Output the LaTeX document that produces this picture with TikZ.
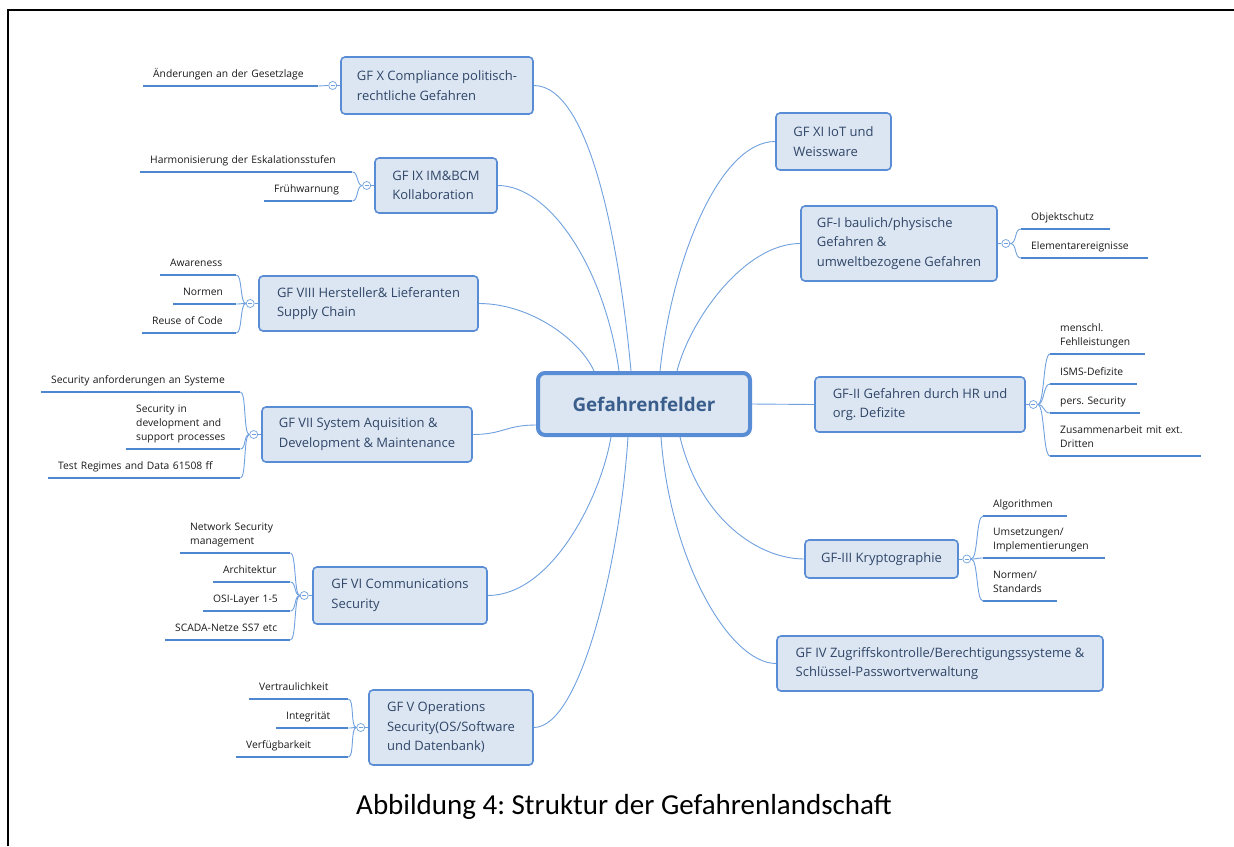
\documentclass[tikz,border=0pt]{standalone}
\usepackage{fontspec}
\setmainfont{Open Sans}
\newfontfamily\capfont{Carlito}
\usetikzlibrary{calc}
\frenchspacing

\definecolor{boxfill}{RGB}{220,230,242}
\definecolor{boxline}{RGB}{88,140,212}
\definecolor{boxtext}{RGB}{48,70,104}
\definecolor{roottext}{RGB}{58,94,140}
\definecolor{linkblue}{RGB}{112,160,222}
\definecolor{ulblue}{RGB}{78,134,208}
\definecolor{leaftext}{RGB}{25,25,25}

\tikzset{
  topic/.style={draw=boxline, line width=1.6pt, fill=boxfill, rounded corners=4pt,
    align=left, text=boxtext, font=\fontsize{13}{19.5}\selectfont, inner sep=0pt},
  rootbox/.style={draw=boxline, line width=4pt, fill=boxfill, rounded corners=7pt,
    text=roottext, font=\fontsize{18.8}{22}\selectfont\bfseries,
    minimum width=212pt, minimum height=62pt},
  link/.style={draw=linkblue, line width=0.9pt},
  uline/.style={draw=ulblue, line width=2.8pt},
  leaf/.style={anchor=south west, inner xsep=10pt, inner ysep=4pt, align=left,
    text=leaftext, font=\fontsize{10.3}{14}\selectfont},
  coll/.style={circle, draw=linkblue, line width=0.7pt, fill=white, minimum size=8pt,
    inner sep=0pt, path picture={\draw[linkblue, line width=0.6pt]
      ([xshift=-2pt]path picture bounding box.center) --
      ([xshift=2pt]path picture bounding box.center);}},
}

\begin{document}
\begin{tikzpicture}[x=1pt,y=-1pt]
\useasboundingbox (0,0) rectangle (1234,846);

% page frame
\draw[line width=2.5pt] (8,846) -- (8,10) -- (1240,10);

% central topic
\node[rootbox] (root) at (644,404) {Gefahrenfelder};

% main topics, left side
\node[topic, minimum width=192pt, minimum height=57pt] (gfx) at (437,85.5)
  {GF X Compliance politisch-\\rechtliche Gefahren};
\node[topic, minimum width=122pt, minimum height=55pt] (gfix) at (436,185.5)
  {GF IX IM\&BCM\\Kollaboration};
\node[topic, minimum width=219pt, minimum height=55pt] (gfviii) at (368.5,303.5)
  {GF VIII Hersteller\& Lieferanten\\Supply Chain};
\node[topic, minimum width=210pt, minimum height=55pt] (gfvii) at (367,434.5)
  {GF VII System Aquisition \&\\Development \& Maintenance};
\node[topic, minimum width=174pt, minimum height=57pt] (gfvi) at (400,595.5)
  {GF VI Communications\\Security};
\node[topic, minimum width=164pt, minimum height=75pt] (gfv) at (451,727.5)
  {GF V Operations\\Security(OS/Software\\und Datenbank)};

% main topics, right side
\node[topic, minimum width=115pt, minimum height=57pt] (gfxi) at (833.5,141.5)
  {GF XI IoT und\\Weissware};
\node[topic, minimum width=196pt, minimum height=75pt] (gfi) at (899,243.5)
  {GF-I baulich/physische\\Gefahren \&\\umweltbezogene Gefahren};
\node[topic, minimum width=210pt, minimum height=55pt] (gfii) at (920,404.5)
  {GF-II Gefahren durch HR und\\org. Defizite};
\node[topic, minimum width=153pt, minimum height=38pt] (gfiii) at (881.5,559)
  {GF-III Kryptographie};
\node[topic, minimum width=326pt, minimum height=55pt] (gfiv) at (940,663.5)
  {GF IV Zugriffskontrolle/Berechtigungssysteme \&\\Schlüssel-Passwortverwaltung};

% connectors from the central topic
\draw[link] ([xshift=-13pt]root.north) .. controls +(-11,-121) and +(57,0) .. (gfx.east);
\draw[link] ([xshift=-25pt]root.north) .. controls +(-14,-101) and +(53,0) .. (gfix.east);
\draw[link] ([xshift=-50pt]root.north) .. controls +(-14,-31) and +(52,0) .. (gfviii.east);
\draw[link] ([yshift=-21pt]root.west) .. controls +(-30,0) and +(30,0) .. (gfvii.east);
\draw[link] ([xshift=-33pt]root.south) .. controls +(-11,63) and +(63,0) .. (gfvi.east);
\draw[link] ([xshift=-16pt]root.south) .. controls +(-8,123) and +(47,0) .. (gfv.east);
\draw[link] ([xshift=16pt]root.north) .. controls +(12,-111) and +(-56,0) .. (gfxi.west);
\draw[link] ([xshift=33pt]root.north) .. controls +(13,-51) and +(-56,0) .. (gfi.west);
\draw[link] (root.east) -- (gfii.west);
\draw[link] ([xshift=36pt]root.south) .. controls +(20,83) and +(-45,0) .. (gfiii.west);
\draw[link] ([xshift=17pt]root.south) .. controls +(9,123) and +(-47,0) .. (gfiv.west);

% collapse markers
\node[coll] (cx)    at ([xshift=-7.5pt]gfx.west) {};
\node[coll] (cix)   at ([xshift=-7.5pt]gfix.west) {};
\node[coll] (cviii) at ([xshift=-8pt]gfviii.west) {};
\node[coll] (cvii)  at ([xshift=-7.5pt]gfvii.west) {};
\node[coll] (cvi)   at ([xshift=-8pt]gfvi.west) {};
\node[coll] (cv)    at ([xshift=-7.5pt]gfv.west) {};
\node[coll] (ci)    at ([xshift=8pt]gfi.east) {};
\node[coll] (cii)   at ([xshift=7.5pt]gfii.east) {};
\node[coll] (ciii)  at ([xshift=8pt]gfiii.east) {};
\foreach \c/\t in {cx/gfx, cix/gfix, cviii/gfviii, cvii/gfvii, cvi/gfvi, cv/gfv}
  \draw[link] (\c.east) -- (\t.west);
\foreach \c/\t in {ci/gfi, cii/gfii, ciii/gfiii}
  \draw[link] (\c.west) -- (\t.east);

% subtopics, left side
\node[leaf, text width=155pt] (x1) at (143,86) {\mbox{Änderungen an der Gesetzlage}\strut};

\node[leaf, text width=192pt] (ix1) at (140,172) {\mbox{Harmonisierung der Eskalationsstufen}\strut};
\node[leaf, text width=68pt]  (ix2) at (264,201) {Frühwarnung\strut};

\node[leaf, text width=56pt] (viii1) at (160,275) {Awareness\strut};
\node[leaf, text width=43pt] (viii2) at (173,304) {Normen\strut};
\node[leaf, text width=74pt] (viii3) at (142,333) {\mbox{Reuse of Code}\strut};

\node[leaf, text width=179pt] (vii1) at (41,392) {\mbox{Security anforderungen an Systeme}\strut};
\node[leaf, text width=94pt]  (vii2) at (126,449) {Security in\\development and\\support processes\strut};
\node[leaf, text width=172pt] (vii3) at (48,478) {\mbox{Test Regimes and Data 61508 ff}\strut};

\node[leaf, text width=90pt]  (vi1) at (180,553) {Network Security\\management\strut};
\node[leaf, text width=57pt]  (vi2) at (213,582) {Architektur\strut};
\node[leaf, text width=67pt]  (vi3) at (203,611) {\mbox{OSI-Layer 1-5}\strut};
\node[leaf, text width=105pt] (vi4) at (165,640) {\mbox{SCADA-Netze SS7 etc}\strut};

\node[leaf, text width=79pt] (v1) at (249,699) {Vertraulichkeit\strut};
\node[leaf, text width=52pt] (v2) at (276,728) {Integrität\strut};
\node[leaf, text width=92pt] (v3) at (236,757) {Verfügbarkeit\strut};

% subtopics, right side
\node[leaf, text width=69pt]  (i1) at (1021,229) {Objektschutz\strut};
\node[leaf, text width=107pt] (i2) at (1021,258) {Elementarereignisse\strut};

\node[leaf, text width=75pt]  (ii1) at (1050,354) {menschl.\\Fehlleistungen\strut};
\node[leaf, text width=67pt]  (ii2) at (1050,384) {ISMS-Defizite\strut};
\node[leaf, text width=70pt]  (ii3) at (1050,413) {\mbox{pers. Security}\strut};
\node[leaf, text width=131pt] (ii4) at (1050,456) {\mbox{Zusammenarbeit mit ext.}\\Dritten\strut};

\node[leaf, text width=64pt]  (iii1) at (983,516) {Algorithmen\strut};
\node[leaf, text width=102pt] (iii2) at (983,558) {Umsetzungen/\\Implementierungen\strut};
\node[leaf, text width=54pt]  (iii3) at (983,601) {Normen/\\Standards\strut};

% underlines of the subtopics
\foreach \n in {x1, ix1, ix2, viii1, viii2, viii3, vii1, vii2, vii3, vi1, vi2, vi3, vi4,
                v1, v2, v3, i1, i2, ii1, ii2, ii3, ii4, iii1, iii2, iii3}
  \draw[uline] (\n.south west) -- (\n.south east);

% braces from the markers to the subtopics
\draw[link] (cx.west) -- (x1.south east);
\foreach \c/\n in {cix/ix1, cix/ix2, cviii/viii1, cviii/viii2, cviii/viii3,
                   cvii/vii1, cvii/vii2, cvii/vii3, cvi/vi1, cvi/vi2, cvi/vi3, cvi/vi4,
                   cv/v1, cv/v2, cv/v3}
  \draw[link] (\c.west) .. controls +(-6,0) and +(6,0) .. (\n.south east);
\foreach \c/\n in {ci/i1, ci/i2, cii/ii1, cii/ii2, cii/ii3, cii/ii4,
                   ciii/iii1, ciii/iii2, ciii/iii3}
  \draw[link] (\c.east) .. controls +(7,0) and +(-7,0) .. (\n.south west);

% caption
\node[font=\capfont\fontsize{29}{34}\selectfont] (cap) at (624,807)
  {Abbildung 4: Struktur der Gefahrenlandschaft};
\end{tikzpicture}
\end{document}
